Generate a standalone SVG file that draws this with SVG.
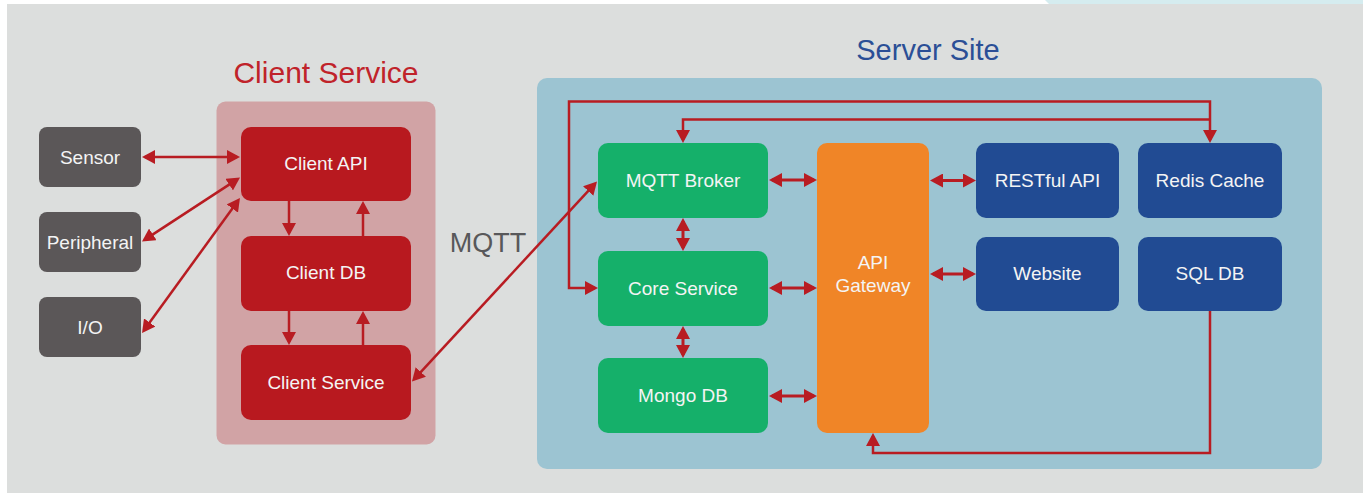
<svg xmlns="http://www.w3.org/2000/svg" width="1363" height="493" viewBox="0 0 1363 493">
<style>
.t{font-family:"Liberation Sans",Arial,sans-serif;fill:#f4f4f4;font-size:19px;text-anchor:middle}
.title{font-family:"Liberation Sans",Arial,sans-serif;text-anchor:middle}
.gray{fill:#5b5758}
.red{fill:#b8191f}
.green{fill:#15b06a}
.blue{fill:#214b93}
.orange{fill:#f08527}
.c{fill:none;stroke:#b81c22;stroke-width:2.5}
.d{fill:none;stroke:#b81c22;stroke-width:3}
</style>
<defs>
<marker id="ah" markerUnits="userSpaceOnUse" markerWidth="13" markerHeight="14" viewBox="0 0 13 14" refX="10" refY="7" orient="auto-start-reverse">
<path d="M0,0 L13,7 L0,14 z" fill="#b81c22"/>
</marker>
</defs>
<rect x="0" y="0" width="1363" height="493" fill="#ffffff"/>
<rect x="7" y="4" width="1356" height="489" fill="#dcdedd"/>
<polygon points="1045,0 1363,0 1363,4 1049,4" fill="#d5ecef"/>

<g id="client-group">
<rect x="216.5" y="101.5" width="219" height="343" rx="9" fill="#d1a3a5"/>
<text class="title" x="326" y="82.5" font-size="30" fill="#c0232a">Client Service</text>
</g>
<g id="server-group">
<rect x="537" y="78" width="785" height="391" rx="10" fill="#9cc4d2"/>
<text class="title" x="928" y="60" font-size="29" fill="#2b4f96">Server Site</text>
</g>
<text id="mqtt-label" class="title" x="488" y="251.5" font-size="27" fill="#58585a">MQTT</text>

<g id="connectors">
<line class="c" x1="145" y1="157" x2="237" y2="157" marker-start="url(#ah)" marker-end="url(#ah)"/>
<line class="c" x1="144.5" y1="239.9" x2="237.5" y2="179.1" marker-start="url(#ah)" marker-end="url(#ah)"/>
<line class="c" x1="143.8" y1="330.6" x2="238.2" y2="200.4" marker-start="url(#ah)" marker-end="url(#ah)"/>
<line class="c" x1="289" y1="201" x2="289" y2="233" marker-end="url(#ah)"/>
<line class="c" x1="363" y1="236" x2="363" y2="204" marker-end="url(#ah)"/>
<line class="c" x1="289" y1="311" x2="289" y2="342" marker-end="url(#ah)"/>
<line class="c" x1="363" y1="345" x2="363" y2="314" marker-end="url(#ah)"/>
<line class="c" x1="414" y1="379.3" x2="595" y2="183.7" marker-start="url(#ah)" marker-end="url(#ah)"/>
<line class="d" x1="772" y1="180" x2="814" y2="180" marker-start="url(#ah)" marker-end="url(#ah)"/>
<line class="d" x1="772" y1="288" x2="814" y2="288" marker-start="url(#ah)" marker-end="url(#ah)"/>
<line class="d" x1="772" y1="396" x2="814" y2="396" marker-start="url(#ah)" marker-end="url(#ah)"/>
<line class="d" x1="933" y1="180.5" x2="973" y2="180.5" marker-start="url(#ah)" marker-end="url(#ah)"/>
<line class="d" x1="933" y1="274" x2="973" y2="274" marker-start="url(#ah)" marker-end="url(#ah)"/>
<line class="d" x1="683" y1="221" x2="683" y2="248" marker-start="url(#ah)" marker-end="url(#ah)"/>
<line class="d" x1="683" y1="329" x2="683" y2="355" marker-start="url(#ah)" marker-end="url(#ah)"/>
<path class="c" d="M595,288 H569 V101.5 H1210 V140" marker-start="url(#ah)" marker-end="url(#ah)"/>
<path class="c" d="M683,140 V119.5 H1210" marker-start="url(#ah)"/>
<path class="c" d="M1210,311 V453 H873 V436" marker-end="url(#ah)"/>
</g>

<g id="sensor"><rect class="gray" x="39" y="127" width="102" height="60" rx="8"/><text class="t" x="90" y="164">Sensor</text></g>
<g id="peripheral"><rect class="gray" x="39" y="212" width="102" height="60" rx="8"/><text class="t" x="90" y="249">Peripheral</text></g>
<g id="io"><rect class="gray" x="39" y="297" width="102" height="60" rx="8"/><text class="t" x="90" y="334">I/O</text></g>

<g id="client-api"><rect class="red" x="241" y="127" width="170" height="74" rx="10"/><text class="t" x="326" y="170">Client API</text></g>
<g id="client-db"><rect class="red" x="241" y="236" width="170" height="75" rx="10"/><text class="t" x="326" y="279">Client DB</text></g>
<g id="client-service"><rect class="red" x="241" y="345" width="170" height="75" rx="10"/><text class="t" x="326" y="389">Client Service</text></g>

<g id="mqtt-broker"><rect class="green" x="598" y="143" width="170" height="75" rx="10"/><text class="t" x="683" y="187">MQTT Broker</text></g>
<g id="core-service"><rect class="green" x="598" y="251" width="170" height="75" rx="10"/><text class="t" x="683" y="295">Core Service</text></g>
<g id="mongo-db"><rect class="green" x="598" y="358" width="170" height="75" rx="10"/><text class="t" x="683" y="402">Mongo DB</text></g>

<g id="api-gateway"><rect class="orange" x="817" y="143" width="112" height="290" rx="10"/><text class="t" x="873" y="269">API</text><text class="t" x="873" y="292">Gateway</text></g>

<g id="restful-api"><rect class="blue" x="976" y="143" width="143" height="75" rx="10"/><text class="t" x="1047.5" y="187">RESTful API</text></g>
<g id="redis-cache"><rect class="blue" x="1138" y="143" width="144" height="75" rx="10"/><text class="t" x="1210" y="187">Redis Cache</text></g>
<g id="website"><rect class="blue" x="976" y="237" width="143" height="74" rx="10"/><text class="t" x="1047.5" y="280">Website</text></g>
<g id="sql-db"><rect class="blue" x="1138" y="237" width="144" height="74" rx="10"/><text class="t" x="1210" y="280">SQL DB</text></g>
</svg>
